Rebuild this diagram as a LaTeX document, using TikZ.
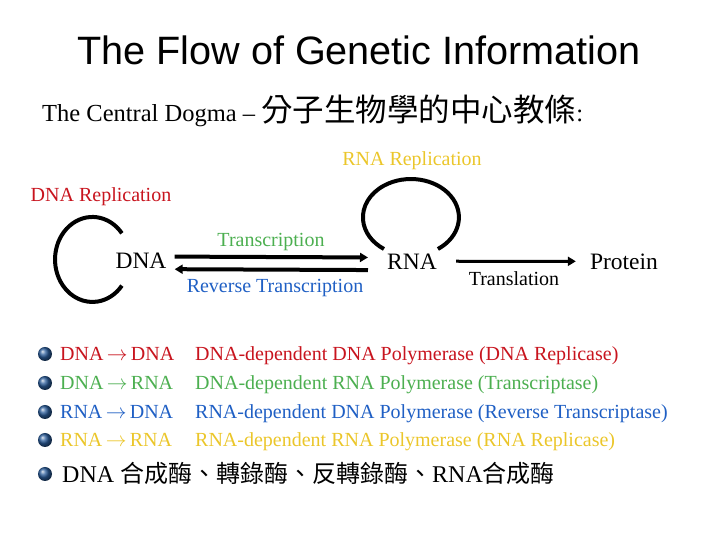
\documentclass[tikz,border=0pt]{standalone}
\usepackage{fontspec}
\setmainfont{Liberation Serif}
\newfontfamily\headfont{Liberation Sans}
\newfontfamily\cjk{Noto Sans CJK TC}
\usetikzlibrary{arrows.meta}
\definecolor{dogred}{HTML}{C8141E}
\definecolor{doggreen}{HTML}{4CAF50}
\definecolor{dogblue}{HTML}{1F5FC4}
\definecolor{doggold}{HTML}{EBC62A}
\definecolor{dogball}{HTML}{2A5C9A}
\newcommand{\flowto}{\,$\rightarrow$\,}

\begin{document}
\begin{tikzpicture}[x=1pt,y=1pt,>={Triangle[length=8pt,width=9pt]},
  lbl/.style={inner sep=0pt,anchor=base,font=\fontsize{20}{24}\selectfont},
  mol/.style={inner sep=0pt,anchor=base,font=\fontsize{23.5}{28}\selectfont},
  row/.style={inner sep=0pt,anchor=base west,font=\fontsize{20}{24}\selectfont},
  dot/.style={circle,inner sep=0pt,minimum size=14pt,ball color=dogball},
  flow/.style={line width=4pt},
  loopline/.style={line width=4pt}]
\useasboundingbox (0,0) rectangle (720,540);
\node[inner sep=0pt,anchor=base,font=\headfont\fontsize{39.6}{44}\selectfont] (title) at (359,475) {The Flow of Genetic Information};
\node[inner sep=0pt,anchor=base west,font=\fontsize{24.5}{30}\selectfont] (dogma) at (42,418)
  {The Central Dogma -- {\cjk\fontsize{31.5}{32}\selectfont 分子生物學的中心教條}:};
% molecules and the processes between them
\node[mol] (dna) at (141,271) {DNA};
\node[mol] (rna) at (412,270) {RNA};
\node[mol] (protein) at (624,270) {Protein};
\node[lbl,dogred] (dnarep) at (101,338) {DNA Replication};
\node[lbl,doggold] (rnarep) at (412,374) {RNA Replication};
\node[lbl,doggreen] (trans) at (271,293) {Transcription};
\node[lbl,dogblue] (revtrans) at (275,247) {Reverse Transcription};
\node[lbl] (transl) at (514,254) {Translation};
\draw[flow,->,shorten <=8pt,shorten >=19pt] ([yshift=4.7pt]dna.east) -- ([yshift=4.7pt]rna.west);
\draw[flow,->,shorten <=19pt,shorten >=8pt] ([yshift=-7.9pt]rna.west) -- ([yshift=-7.9pt]dna.east);
\draw[line width=3pt,->,shorten <=19pt,shorten >=14pt] ([yshift=1pt]rna.east) -- ([yshift=1pt]protein.west);
% replication loops, open towards their molecule
\coordinate (dnaloop) at (121.9,306.7);
\coordinate (rnaloop) at (437.9,291);
\draw[loopline] (dnaloop) arc[start angle=38,end angle=322,x radius=37.4,y radius=42.5];
\draw[loopline] (rnaloop) arc[start angle=-55.8,end angle=235.8,x radius=48,y radius=38.3];
% enzymes
\node[dot] (b1) at (45,186) {};
\node[dot] (b2) at (45,157) {};
\node[dot] (b3) at (45,128) {};
\node[dot] (b4) at (45,100) {};
\node[dot] (b5) at (45,66) {};
\node[row,dogred] (p1) at (60,179) {DNA\flowto DNA};
\node[row,doggreen] (p2) at (60,150) {DNA\flowto RNA};
\node[row,dogblue] (p3) at (60,121) {RNA\flowto DNA};
\node[row,doggold] (p4) at (60,93) {RNA\flowto RNA};
\node[row,dogred] (e1) at (195,179) {DNA-dependent DNA Polymerase (DNA Replicase)};
\node[row,doggreen] (e2) at (195,150) {DNA-dependent RNA Polymerase (Transcriptase)};
\node[row,dogblue] (e3) at (195,121) {RNA-dependent DNA Polymerase (Reverse Transcriptase)};
\node[row,doggold] (e4) at (195,93) {RNA-dependent RNA Polymerase (RNA Replicase)};
\node[row,font=\fontsize{24}{30}\selectfont] (names) at (62,57)
  {DNA {\cjk 合成酶、轉錄酶、反轉錄酶、}RNA{\cjk 合成酶}};
\end{tikzpicture}
\end{document}
